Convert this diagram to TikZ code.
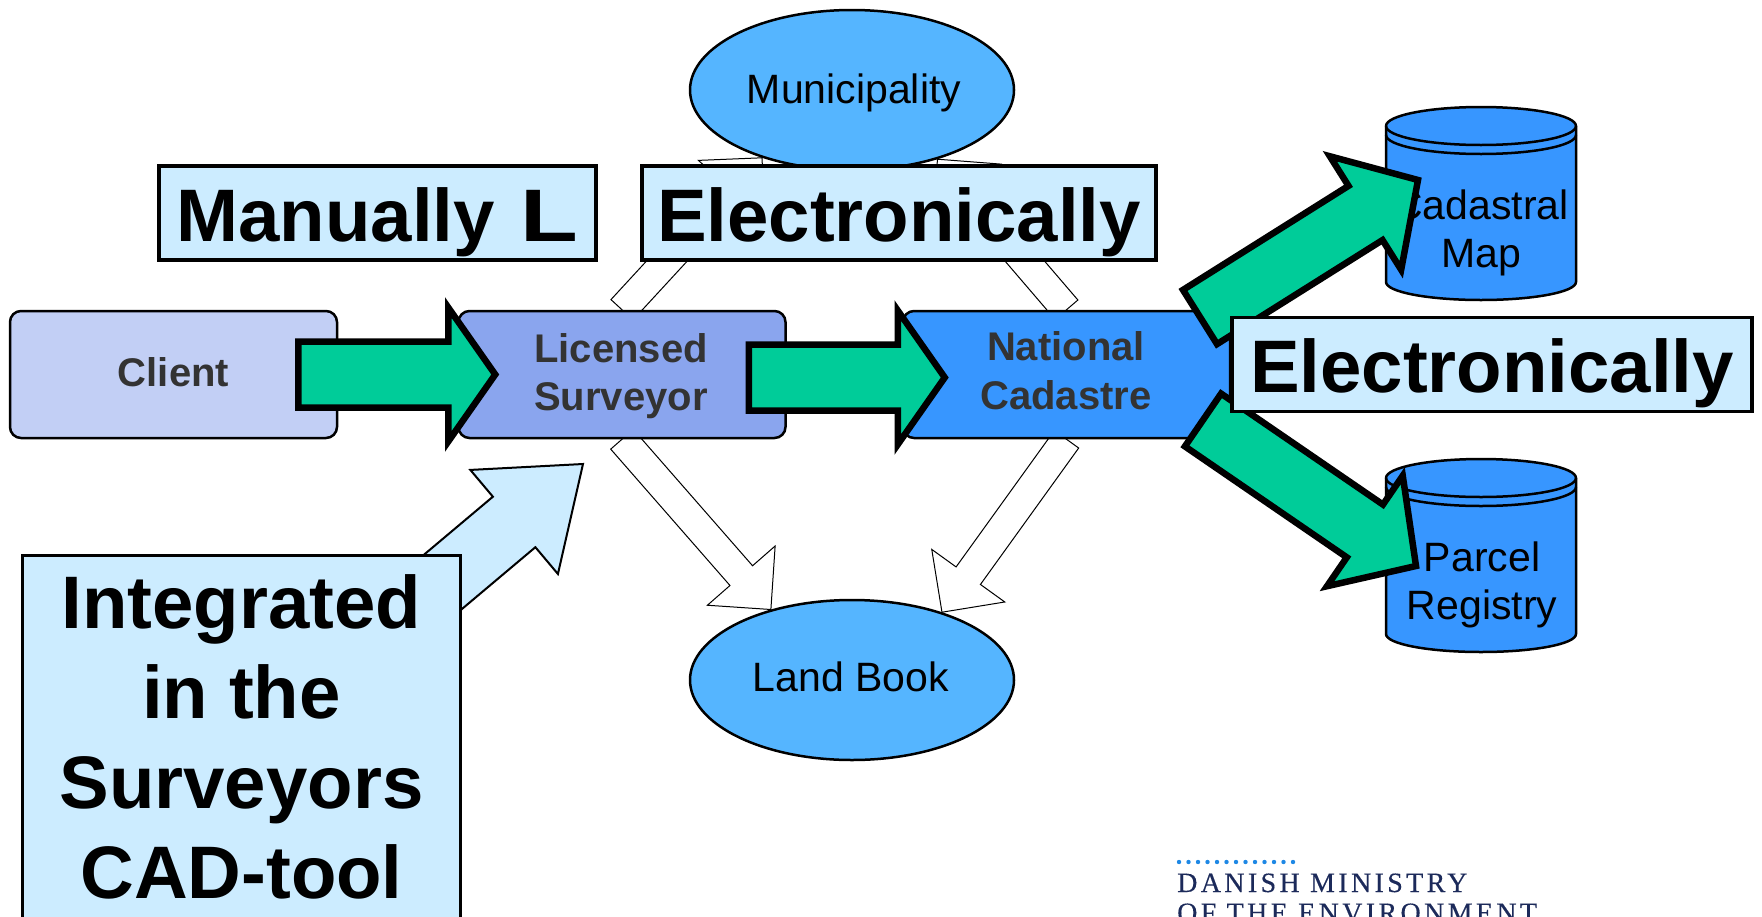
\documentclass[tikz,border=0pt]{standalone}
\usepackage{fontspec}
\setmainfont{Liberation Sans}
\newfontfamily\logoserif[LetterSpace=12,FakeBold=0.3]{Liberation Serif}
\usetikzlibrary{shapes.geometric,calc,backgrounds}
\definecolor{clientfill}{HTML}{C2CFF5}
\definecolor{surveyfill}{HTML}{8AA5EE}
\definecolor{cadfill}{HTML}{3796FF}
\definecolor{ellfill}{HTML}{55B5FF}
\definecolor{labelfill}{HTML}{CCECFF}
\definecolor{arrowgreen}{HTML}{00CC99}
\definecolor{logonavy}{HTML}{1C2A5A}
\definecolor{logodot}{HTML}{1E88E5}
\definecolor{boxtext}{HTML}{333333}
\newcommand{\blockarrow}[6]{%
  \coordinate (headbase) at ($(#3)!#6!(#2)$);
  \draw[#1] ($(#2)!#4!90:(#3)$) -- ($(headbase)!#4!90:(#3)$) -- ($(headbase)!#5!90:(#3)$) -- (#3)
    -- ($(headbase)!#5!-90:(#3)$) -- ($(headbase)!#4!-90:(#3)$) -- ($(#2)!#4!-90:(#3)$) -- cycle;}
\tikzset{
  flowbox/.style={draw=black,line width=2.5pt,rounded corners=11pt,minimum width=327pt,minimum height=127pt,inner sep=0pt},
  flowtext/.style={text=boxtext,align=center,inner sep=0pt,font=\fontsize{40}{48.5}\selectfont\bfseries},
  orgell/.style={ellipse,draw=black,line width=2.5pt,fill=ellfill,minimum width=324pt,minimum height=160pt,inner sep=0pt},
  orgtext/.style={inner sep=0pt,font=\fontsize{41}{48}\selectfont},
  dblabel/.style={align=center,inner sep=0pt,font=\fontsize{41}{48.5}\selectfont},
  callout/.style={draw=black,line width=3.5pt,fill=labelfill,inner sep=0pt,text height=75pt,text depth=19pt,
    font=\fontsize{74.4}{90}\selectfont\bfseries},
  whitearrow/.style={draw=black,line width=1pt,fill=white,miter limit=10},
  greenarrow/.style={draw=black,line width=6.5pt,fill=arrowgreen,miter limit=10},
  bluearrow/.style={draw=black,line width=2pt,fill=labelfill,miter limit=10},
  logotext/.style={anchor=base west,inner sep=0pt,text=logonavy,font=\fontsize{28}{30}\selectfont\logoserif},
  dbcyl/.pic={
    \draw[draw=black,line width=2.5pt,fill=cadfill]
      (-95,0) .. controls (-95,-10.5) and (-52.5,-19) .. (0,-19)
      .. controls (52.5,-19) and (95,-10.5) .. (95,0)
      -- (95,156) .. controls (95,166) and (52.5,174) .. (0,174)
      .. controls (-52.5,174) and (-95,166) .. (-95,156) -- cycle;
    \draw[line width=2.5pt]
      (-95,0) .. controls (-95,10.5) and (-52.5,19) .. (0,19)
      .. controls (52.5,19) and (95,10.5) .. (95,0);
    \draw[line width=2.5pt]
      (-95,9) .. controls (-95,19.5) and (-52.5,28) .. (0,28)
      .. controls (52.5,28) and (95,19.5) .. (95,9);
  }
}
\begin{document}
\begin{tikzpicture}[x=1pt,y=-1pt]
\path[clip] (0,0) rectangle (1762,916);
% organisation nodes
\node[flowbox,fill=clientfill,label={[flowtext,yshift=2.2pt]center:Client}] (client) at (173.5,374.5) {};
\node[flowbox,fill=surveyfill,label={[flowtext,yshift=-1.7pt,xshift=-1pt]center:{Licensed\\Surveyor}}] (ls) at (622,374.5) {};
\node[flowbox,fill=cadfill,label={[flowtext,yshift=4pt,xshift=-0.5pt]center:{National\\Cadastre}}] (nc) at (1066.5,374.5) {};
\node[orgell,label={[orgtext,yshift=-3pt,xshift=2pt]center:Municipality}] (mun) at (852,90) {};
\node[orgell,label={[orgtext,yshift=3pt,xshift=-1pt]center:Land Book}] (land) at (852,680) {};
% hollow arrows sit behind the nodes
\begin{pgfonlayer}{background}
\blockarrow{whitearrow}{ls.north}{mun.217}{15pt}{45pt}{45pt}
\blockarrow{whitearrow}{nc.north}{mun.321}{15pt}{45pt}{45pt}
\blockarrow{whitearrow}{ls.south}{land.139}{15pt}{45pt}{45pt}
\blockarrow{whitearrow}{nc.south}{land.37}{15pt}{45pt}{45pt}
\end{pgfonlayer}
% databases
\pic at (1481,126) {dbcyl};
\pic at (1481,478) {dbcyl};
\node[dblabel] (map) at (1481,233) {Cadastral\\Map};
\node[dblabel] (reg) at (1482,585) {Parcel\\Registry};
% callout with arrow
\coordinate (ctail) at (400,618);
\coordinate (ctip) at (583,464);
\blockarrow{bluearrow}{ctail}{ctip}{33pt}{68pt}{90pt}
\node[draw=black,line width=3.5pt,fill=labelfill,anchor=north,minimum width=438pt,inner ysep=19pt,inner xsep=0pt,
  align=center,font=\fontsize{74.4}{90}\selectfont\bfseries] (integ) at (241.5,553.5) {Integrated\\in the\\Surveyors\\CAD-tool\rule[-12pt]{0pt}{12pt}};
% green arrows
\blockarrow{greenarrow}{$(client.east)+(-40,0)$}{$(ls.west)+(38,0)$}{33pt}{67pt}{47pt}
\blockarrow{greenarrow}{$(ls.east)+(-38,3)$}{$(nc.west)+(43,3)$}{33pt}{67pt}{47pt}
\coordinate (uptail) at (1200,317);
\coordinate (uptip) at (1418,180);
\coordinate (dntail) at (1203,420);
\coordinate (dntip) at (1416,566);
\blockarrow{greenarrow}{uptail}{uptip}{32pt}{67pt}{62pt}
\blockarrow{greenarrow}{dntail}{dntip}{32pt}{67pt}{62pt}
% callouts
\node[callout,minimum width=437pt] (manual) at (377.5,213) {Manually\hspace{26pt}\scalebox{1.27}[1]{L}};
\node[callout,minimum width=514pt] (elec) at (899,213) {Electronically};
\node[callout,minimum width=520pt] (elec2) at (1492,364.5) {Electronically};
% logo
\foreach \i in {0,...,12} \fill[logodot] (1179+9.5*\i,862) circle (2.2pt);
\node[logotext] (logoa) at (1177,892) {DANISH MINISTRY};
\node[logotext] (logob) at (1177,922) {OF THE ENVIRONMENT};
\end{tikzpicture}
\end{document}
